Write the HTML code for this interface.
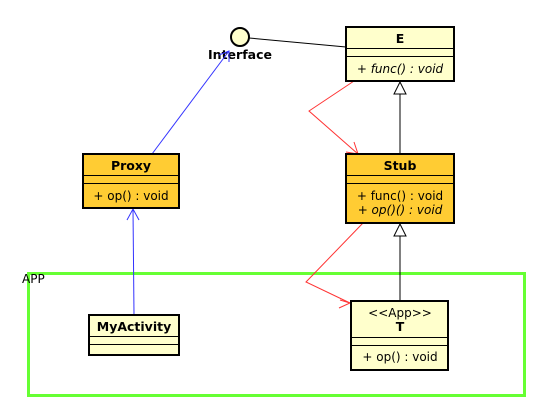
<!DOCTYPE html>
<html><head><style>
body{margin:0;background:#fff;}
svg{display:block;font-family:"DejaVu Sans","Liberation Sans",sans-serif;}
</style></head><body>
<svg width="555" height="416" viewBox="0 0 555 416" xmlns="http://www.w3.org/2000/svg">
<rect x="28.5" y="273.5" width="496" height="122" fill="none" stroke="#66ff33" stroke-width="3"/>
<text x="22" y="283" font-size="12" fill="#000">APP</text>

<line x1="249" y1="38" x2="346" y2="47" stroke="#000" stroke-width="1"/>
<circle cx="240" cy="37" r="9" fill="#ffffcc" stroke="#000" stroke-width="2"/>
<text x="240" y="59" font-size="12.5" font-weight="bold" text-anchor="middle">Interface</text>

<line x1="152" y1="154" x2="229" y2="51" stroke="#3333ff" stroke-width="1"/>
<polyline points="219,55 229,51 229,62" fill="none" stroke="#3333ff" stroke-width="1"/>
<line x1="134" y1="315" x2="133" y2="209" stroke="#3333ff" stroke-width="1"/>
<polyline points="127,220 133,209 139,220" fill="none" stroke="#3333ff" stroke-width="1"/>

<polyline points="354,81 309,111 358,154" fill="none" stroke="#ff3333" stroke-width="1"/>
<polyline points="346,152 358,154 354,142" fill="none" stroke="#ff3333" stroke-width="1"/>
<polyline points="363,223 306,282 350,303" fill="none" stroke="#ff3333" stroke-width="1"/>
<polyline points="340,300 350,303 339,308" fill="none" stroke="#ff3333" stroke-width="1"/>

<line x1="400" y1="94" x2="400" y2="154" stroke="#000"/>
<polygon points="400,82 394,94 406,94" fill="#fff" stroke="#000"/>
<line x1="400" y1="236" x2="400" y2="300" stroke="#000"/>
<polygon points="400,224 394,236 406,236" fill="#fff" stroke="#000"/>

<rect x="346" y="27" width="108" height="54" fill="#ffffcc" stroke="#000" stroke-width="2"/>
<line x1="346" y1="48.5" x2="454" y2="48.5" stroke="#000"/>
<line x1="346" y1="56.5" x2="454" y2="56.5" stroke="#000"/>
<text x="400" y="43" font-size="12.5" font-weight="bold" text-anchor="middle">E</text>
<text x="400" y="73" font-size="12" font-style="italic" text-anchor="middle">+ func() : void</text>

<rect x="346" y="154" width="108" height="69" fill="#ffcc33" stroke="#000" stroke-width="2"/>
<line x1="346" y1="175.5" x2="454" y2="175.5" stroke="#000"/>
<line x1="346" y1="183.5" x2="454" y2="183.5" stroke="#000"/>
<text x="400" y="170" font-size="12.5" font-weight="bold" text-anchor="middle">Stub</text>
<text x="400" y="200" font-size="12" text-anchor="middle">+ func() : void</text>
<text x="400" y="214" font-size="12" font-style="italic" text-anchor="middle">+ op()() : void</text>

<rect x="83" y="154" width="96" height="54" fill="#ffcc33" stroke="#000" stroke-width="2"/>
<line x1="83" y1="175.5" x2="179" y2="175.5" stroke="#000"/>
<line x1="83" y1="183.5" x2="179" y2="183.5" stroke="#000"/>
<text x="131" y="170" font-size="12.5" font-weight="bold" text-anchor="middle">Proxy</text>
<text x="131" y="200" font-size="12" text-anchor="middle">+ op() : void</text>

<rect x="89" y="315" width="90" height="40" fill="#ffffcc" stroke="#000" stroke-width="2"/>
<line x1="89" y1="336.5" x2="179" y2="336.5" stroke="#000"/>
<line x1="89" y1="344.5" x2="179" y2="344.5" stroke="#000"/>
<text x="134" y="331" font-size="12.5" font-weight="bold" text-anchor="middle">MyActivity</text>

<rect x="351" y="301" width="97" height="69" fill="#ffffcc" stroke="#000" stroke-width="2"/>
<line x1="351" y1="337.5" x2="448" y2="337.5" stroke="#000"/>
<line x1="351" y1="345.5" x2="448" y2="345.5" stroke="#000"/>
<text x="400" y="317" font-size="12" text-anchor="middle">&lt;&lt;App&gt;&gt;</text>
<text x="400" y="331" font-size="12.5" font-weight="bold" text-anchor="middle">T</text>
<text x="400" y="361" font-size="12" text-anchor="middle">+ op() : void</text>
</svg>
</body></html>
